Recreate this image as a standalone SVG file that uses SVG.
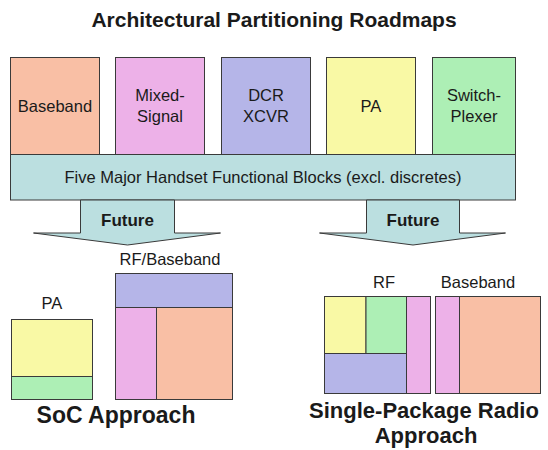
<svg xmlns="http://www.w3.org/2000/svg" width="548" height="450" viewBox="0 0 548 450">
<style>
.b{stroke:#3a3a3a;stroke-width:1}
.or{fill:#F9BFA5}.pk{fill:#EDB1E8}.bl{fill:#B5B5E8}.ye{fill:#F9F9A5}.gr{fill:#ADEFB5}.cy{fill:#BBDFE0}
.t{font-family:"Liberation Sans",Arial,sans-serif;fill:#1a1a1a;text-anchor:middle}
.n{font-size:16.5px}
.h{font-size:23px;font-weight:bold}
.h2{font-size:22px;font-weight:bold}
.f{font-size:17px;font-weight:bold}
</style>
<rect width="548" height="450" fill="#fff"/>
<text class="t" x="274" y="27" font-size="21" font-weight="bold">Architectural Partitioning Roadmaps</text>

<g id="baseband">
<rect class="b or" x="10.5" y="57.5" width="89" height="97"/>
<text class="t n" x="55" y="112">Baseband</text>
</g>
<g id="mixed-signal">
<rect class="b pk" x="115.5" y="57.5" width="89" height="97"/>
<text class="t n" x="160" y="101">Mixed-</text>
<text class="t n" x="160" y="122">Signal</text>
</g>
<g id="dcr-xcvr">
<rect class="b bl" x="221.5" y="57.5" width="89" height="97"/>
<text class="t n" x="266" y="101">DCR</text>
<text class="t n" x="266" y="122">XCVR</text>
</g>
<g id="pa">
<rect class="b ye" x="326.5" y="57.5" width="89" height="97"/>
<text class="t n" x="371" y="112">PA</text>
</g>
<g id="switch-plexer">
<rect class="b gr" x="432.5" y="57.5" width="83" height="97"/>
<text class="t n" x="474" y="101">Switch-</text>
<text class="t n" x="474" y="122">Plexer</text>
</g>
<g id="functional-blocks">
<rect class="b cy" x="10.5" y="154.5" width="505" height="45.5"/>
<text class="t n" x="263" y="183">Five Major Handset Functional Blocks (excl. discretes)</text>
</g>

<g id="connectors">
<g id="future-left">
<polygon class="b cy" points="80.5,200 174.5,200 174.5,233 220.5,233 127.5,245 33.5,233 80.5,233"/>
<text class="t f" x="127.5" y="226">Future</text>
</g>
<g id="future-right">
<polygon class="b cy" points="366.5,200 459.5,200 459.5,233 505.5,233 413,245 319.5,233 366.5,233"/>
<text class="t f" x="413" y="226">Future</text>
</g>
</g>

<g id="soc-pa">
<text class="t n" x="52" y="309">PA</text>
<rect class="b ye" x="11.5" y="319.5" width="81" height="57"/>
<rect class="b gr" x="11.5" y="376.5" width="81" height="23"/>
</g>
<g id="soc-rf-baseband">
<text class="t n" x="170" y="265">RF/Baseband</text>
<rect class="b bl" x="115.5" y="273.5" width="117" height="34"/>
<rect class="b pk" x="115.5" y="307.5" width="41" height="92"/>
<rect class="b or" x="156.5" y="307.5" width="76" height="92"/>
</g>
<g id="soc-label">
<text class="t h" x="116" y="423">SoC Approach</text>
</g>

<g id="spr-rf">
<text class="t n" x="384" y="288">RF</text>
<rect class="b ye" x="324.5" y="296.5" width="41.5" height="57"/>
<rect class="b gr" x="366" y="296.5" width="40.5" height="57"/>
<rect class="b bl" x="324.5" y="353.5" width="82" height="40"/>
<rect class="b pk" x="406.5" y="296.5" width="24" height="97"/>
</g>
<g id="spr-baseband">
<text class="t n" x="478" y="288">Baseband</text>
<rect class="b pk" x="435.5" y="296.5" width="24" height="97"/>
<rect class="b or" x="459.5" y="296.5" width="81" height="97"/>
</g>
<g id="spr-label">
<text class="t h2" x="424" y="418">Single-Package Radio</text>
<text class="t h2" x="426" y="443">Approach</text>
</g>
</svg>
